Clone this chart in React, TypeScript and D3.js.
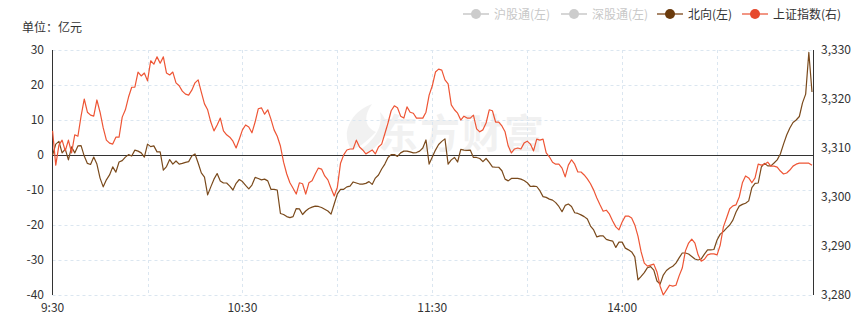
import React from "react";
import * as d3 from "d3";

const W = 868;
const H = 328;

const leftTicks = [30, 20, 10, 0, -10, -20, -30, -40];
const rightTicks = [3330, 3320, 3310, 3300, 3290, 3280];
const timeLabels = ["9:30", "10:30", "11:30", "14:00"];
const timeLabelIdx = [0, 60, 120, 180];
const gridIdx = [0, 30, 60, 90, 120, 150, 180, 210, 240];
const legendNames = ["沪股通(左)", "深股通(左)", "北向(左)", "上证指数(右)"];

const northbound = [
  0.0, 3.1, 3.9, 0.6, 1.7, -1.4, 2.3, 0.6, 2.6, 2.7,
  -0.3, -2.4, -2.7, -0.6, -2.6, -6.6, -9.1, -7.1, -5.7, -3.4,
  -4.9, -2.0, -1.6, -0.6, 0.1, -0.3, 1.4, 1.1, 0.6, -0.6,
  3.1, 2.4, 2.6, 0.9, 0.9, -4.3, -3.3, -1.3, -2.6, -1.7,
  -2.6, -2.4, -2.1, -1.9, -0.3, 0.3, -2.3, -5.1, -6.3, -11.4,
  -9.1, -6.9, -5.3, -7.4, -8.0, -8.0, -8.9, -10.0, -8.1, -7.0,
  -7.6, -8.7, -9.7, -8.6, -6.4, -6.7, -7.1, -6.9, -7.4, -9.8,
  -9.8, -10.0, -16.7, -17.0, -17.6, -17.9, -17.6, -15.3, -15.4, -17.0,
  -16.0, -15.3, -14.9, -14.6, -14.7, -15.0, -15.5, -16.0, -16.9, -14.0,
  -11.1, -9.8, -9.8, -9.1, -8.9, -7.7, -8.0, -8.3, -8.3, -8.1,
  -7.6, -8.4, -6.6, -5.7, -4.0, -2.6, -0.7, 0.1, 0.1, -0.4,
  0.6, 1.1, 1.1, 0.9, 0.6, 0.7, 1.1, 2.0, 4.3, -2.6,
  -0.6, 1.4, 3.0, 3.9, 4.6, -2.6, -1.4, -0.7, -2.0, 1.6,
  1.4, 1.3, 1.4, -0.7, -0.7, -1.0, -1.9, -1.0, -2.1, -3.4,
  -3.5, -3.5, -4.5, -6.9, -7.4, -6.7, -6.7, -6.7, -6.9, -7.3,
  -7.9, -9.0, -8.9, -9.0, -10.2, -11.9, -12.1, -12.6, -12.9, -13.6,
  -14.7, -16.2, -14.4, -14.0, -14.7, -16.5, -16.7, -17.1, -17.6, -18.3,
  -20.3, -21.4, -23.4, -23.1, -23.1, -24.1, -24.4, -24.6, -26.4, -24.9,
  -24.9, -26.6, -27.1, -27.7, -29.1, -35.7, -34.7, -33.6, -32.2, -31.9,
  -32.9, -36.0, -36.9, -34.3, -33.0, -32.3, -31.8, -30.9, -29.4, -28.0,
  -28.0, -28.3, -29.0, -29.7, -30.0, -29.7, -28.3, -27.1, -27.1, -27.0,
  -24.3, -22.6, -21.9, -20.9, -20.0, -18.6, -16.3, -14.6, -14.1, -13.8,
  -13.1, -9.3, -8.1, -8.0, -3.4, -2.4, -3.1, -3.1, -2.3, -1.4,
  0.3, 3.1, 5.7, 7.7, 9.3, 10.0, 11.0, 14.9, 17.4, 29.3,
  18.0,
];

const shIndex = [
  3313.5, 3306.5, 3310.6, 3311.6, 3309.4, 3311.6, 3309.0, 3312.7, 3312.4, 3316.5,
  3320.0, 3317.3, 3316.7, 3316.5, 3319.8, 3317.3, 3314.1, 3311.6, 3311.0, 3310.8,
  3312.2, 3312.2, 3316.3, 3317.8, 3320.4, 3322.4, 3322.4, 3325.5, 3324.7, 3325.3,
  3323.7, 3327.8, 3327.1, 3328.6, 3327.3, 3328.6, 3325.3, 3324.9, 3325.5, 3323.3,
  3322.7, 3321.6, 3321.0, 3320.8, 3321.8, 3323.3, 3323.9, 3321.4, 3319.0, 3317.8,
  3315.3, 3313.5, 3314.7, 3316.1, 3313.5, 3312.7, 3312.2, 3311.4, 3310.0, 3311.8,
  3313.7, 3314.7, 3314.3, 3313.1, 3315.3, 3318.0, 3318.2, 3316.9, 3317.8, 3315.9,
  3313.7, 3312.4, 3310.4, 3307.1, 3304.7, 3302.9, 3301.8, 3300.6, 3302.9, 3302.7,
  3300.6, 3302.9, 3303.3, 3304.7, 3305.9, 3305.7, 3304.3, 3303.5, 3301.8, 3300.2,
  3302.0, 3306.9, 3308.6, 3309.6, 3309.8, 3309.8, 3311.6, 3310.2, 3309.6, 3308.8,
  3309.2, 3309.6, 3308.8, 3310.2, 3310.8, 3312.9, 3315.1, 3317.6, 3318.6, 3318.2,
  3316.5, 3316.1, 3318.4, 3317.3, 3317.1, 3316.1, 3316.1, 3316.1, 3317.3, 3320.8,
  3322.7, 3325.5, 3326.1, 3325.9, 3323.9, 3323.1, 3318.8, 3317.8, 3317.1, 3315.7,
  3316.5, 3316.1, 3316.1, 3316.7, 3313.9, 3313.3, 3313.7, 3315.1, 3317.8, 3317.6,
  3315.3, 3315.3, 3314.5, 3313.3, 3310.4, 3309.0, 3309.8, 3310.0, 3309.8, 3311.0,
  3311.4, 3310.8, 3309.4, 3311.8, 3311.6, 3311.8, 3309.0, 3308.2, 3307.1, 3306.7,
  3306.7, 3305.9, 3304.1, 3306.5, 3307.6, 3306.7, 3305.1, 3305.1, 3304.5, 3303.7,
  3302.7, 3301.4, 3299.8, 3298.4, 3297.1, 3297.3, 3296.5, 3295.1, 3293.9, 3293.3,
  3294.9, 3296.1, 3296.1, 3295.7, 3294.3, 3292.0, 3288.8, 3286.5, 3285.9, 3286.1,
  3286.3, 3284.7, 3281.8, 3280.0, 3281.0, 3282.0, 3281.8, 3282.0, 3283.9, 3285.5,
  3289.0, 3290.6, 3291.4, 3290.6, 3288.2, 3286.9, 3287.3, 3288.2, 3288.4, 3288.4,
  3288.2, 3290.2, 3293.9, 3295.7, 3297.6, 3298.2, 3298.4, 3300.0, 3302.9, 3304.3,
  3303.9, 3302.9, 3303.9, 3306.7, 3306.5, 3306.7, 3307.1, 3306.3, 3306.3, 3306.1,
  3305.3, 3304.7, 3304.9, 3305.5, 3306.3, 3306.7, 3306.9, 3306.9, 3306.9, 3306.9,
  3306.5,
];

const FONT = "'Noto Sans CJK SC', 'Noto Sans', sans-serif";
const BROWN = "#7a4a1c";
const RED = "#ee5535";

export default function App() {
  const left = 52.5;
  const right = 813.5;
  const top = 50;
  const bottom = 295;
  const x = d3.scaleLinear().domain([0, 240]).range([52.6, 812]);
  const yL = d3.scaleLinear().domain([-40, 30]).range([bottom, top]);
  const yR = d3.scaleLinear().domain([3280, 3330]).range([bottom, top]);

  const lineN = d3
    .line<number>()
    .x((_, i) => x(i))
    .y((d) => yL(d));
  const lineS = d3
    .line<number>()
    .x((_, i) => x(i))
    .y((d) => yR(d));

  const legendX = [463, 561, 657, 742];
  const legendColors = ["#cccccc", "#cccccc", "#6a3a0c", "#e6492d"];
  const legendLine = ["#d6d6d6", "#d6d6d6", "#a9876a", "#f29684"];
  const legendText = ["#c8c8c8", "#c8c8c8", "#333", "#333"];

  return (
    <svg
      width={W}
      height={H}
      style={{ position: "absolute", left: 0, top: 0, background: "#fff" }}
      fontFamily={FONT}
    >
      {/* legend */}
      {legendNames.map((n, i) => (
        <g key={n}>
          <line x1={legendX[i]} x2={legendX[i] + 26} y1={14} y2={14} stroke={legendLine[i]} strokeWidth={2} />
          <circle cx={legendX[i] + 13} cy={14} r={5} fill={legendColors[i]} />
          <text x={legendX[i] + 31} y={18.5} fontSize={12} fill={legendText[i]}>
            {n}
          </text>
        </g>
      ))}

      <text x={22} y={32} fontSize={12} fill="#333">
        单位：亿元
      </text>

      {/* watermark */}
      <g opacity={0.05} fill="#000">
        <path d="M352,150 C340,135 350,112 372,104 C362,118 366,128 376,132 C370,138 362,146 352,150 Z" />
        <path d="M360,150 C372,142 384,128 380,112 C392,124 386,142 368,152 Z" />
        <text x={378} y={148} fontSize={40} fontWeight={700} letterSpacing={2}>
          东方财富
        </text>
      </g>

      {/* horizontal grid */}
      {leftTicks.map((t) => (
        <line
          key={"h" + t}
          x1={left}
          x2={right}
          y1={yL(t) + 0.5}
          y2={yL(t) + 0.5}
          stroke="#dbe6f0"
          strokeDasharray="3,3"
          strokeWidth={1}
        />
      ))}
      {/* vertical grid */}
      {gridIdx.slice(1, -1).map((g) => (
        <line
          key={"v" + g}
          x1={Math.round(x(g)) + 0.5}
          x2={Math.round(x(g)) + 0.5}
          y1={top}
          y2={bottom}
          stroke="#dbe6f0"
          strokeDasharray="3,3"
          strokeWidth={1}
        />
      ))}

      {/* zero line */}
      <line x1={left} x2={right} y1={yL(0) + 0.5} y2={yL(0) + 0.5} stroke="#333" strokeWidth={1} />

      {/* axes */}
      <line x1={left} x2={left} y1={top} y2={bottom} stroke="#333" strokeWidth={1} />
      <line x1={right} x2={right} y1={top} y2={bottom} stroke="#333" strokeWidth={1} />

      {leftTicks.map((t) => (
        <text key={"lt" + t} x={44} y={yL(t) + 4} fontSize={12} fill="#333" textAnchor="end">
          {t}
        </text>
      ))}
      {rightTicks.map((t) => (
        <text key={"rt" + t} x={821} y={yR(t) + 4} fontSize={12} fill="#333">
          {d3.format(",")(t)}
        </text>
      ))}
      {timeLabels.map((l, i) => (
        <text key={l} x={x(timeLabelIdx[i])} y={312} fontSize={12} fill="#333" textAnchor="middle">
          {l}
        </text>
      ))}

      <path d={lineN(northbound) || ""} fill="none" stroke={BROWN} strokeWidth={1.2} strokeLinejoin="round" />
      <path d={lineS(shIndex) || ""} fill="none" stroke={RED} strokeWidth={1.2} strokeLinejoin="round" />
    </svg>
  );
}
